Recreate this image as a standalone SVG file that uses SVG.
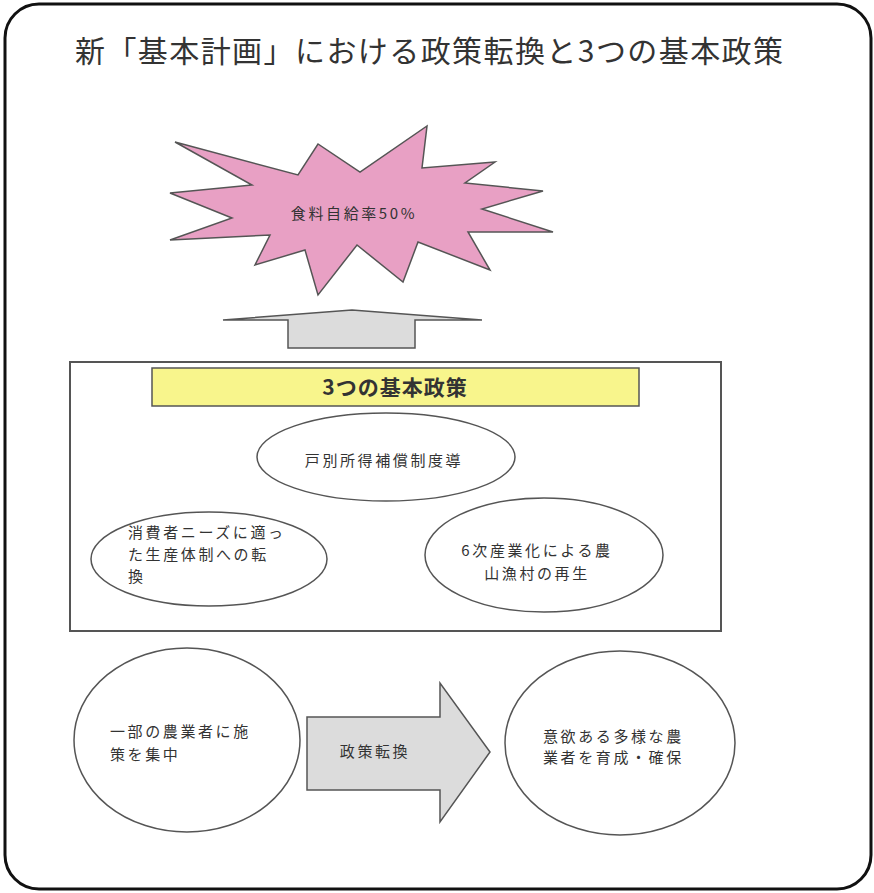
<svg xmlns="http://www.w3.org/2000/svg" width="874" height="893" viewBox="0 0 874 893">
<style>
text{font-family:"Noto Sans CJK JP","Noto Sans",sans-serif;fill:#333;}
.lbl{font-size:15px;letter-spacing:2.6px;}
.shape{stroke:#555;stroke-width:1.5;}
.ell{fill:#fff;stroke:#555;stroke-width:1.5;}
</style>
<rect x="5" y="4" width="866" height="885" rx="34" ry="34" fill="#fff" stroke="#111" stroke-width="3"/>
<text x="75" y="62" font-size="30" textLength="708" lengthAdjust="spacing">新「基本計画」における政策転換と3つの基本政策</text>

<g id="goal">
<polygon class="shape" fill="#e8a0c4" points="175,142 298,175 318,144 360,172 427,126 422,168 495,162 465,183 543,191 482,209 553,232 468,232 490,270 418,242 403,282 357,245 318,295 305,250 255,265 270,235 170,240 232,218 170,193 252,185"/>
<text class="lbl" x="354" y="219" text-anchor="middle">食料自給率50%</text>
</g>

<g id="connectors">
<polygon id="up-arrow" class="shape" fill="#dcdcdc" points="223,320 352,310 482,320 415,320 415,348 288,348 288,320"/>
<polygon id="shift-arrow" class="shape" fill="#dcdcdc" points="307,717 440,717 440,683 490,752 440,822 440,790 307,790"/>
<text class="lbl" x="375" y="757" text-anchor="middle">政策転換</text>
</g>

<g id="policies">
<rect x="70" y="362" width="651" height="269" fill="#fff" stroke="#555" stroke-width="2"/>
<g id="policies-title">
<rect x="152" y="368" width="487" height="38" fill="#f8f58c" stroke="#555" stroke-width="1.5"/>
<text x="395" y="395" font-size="21" font-weight="bold" text-anchor="middle" letter-spacing="1">3つの基本政策</text>
</g>
<g id="policy-income">
<ellipse class="ell" cx="386" cy="457" rx="129" ry="44"/>
<text class="lbl" x="384" y="466" text-anchor="middle">戸別所得補償制度導</text>
</g>
<g id="policy-consumer">
<ellipse class="ell" cx="209" cy="559" rx="118" ry="47"/>
<text class="lbl" x="128" y="538">消費者ニーズに適っ</text>
<text class="lbl" x="128" y="560">た生産体制への転</text>
<text class="lbl" x="128" y="582">換</text>
</g>
<g id="policy-sixth">
<ellipse class="ell" cx="544" cy="555" rx="119" ry="57"/>
<text class="lbl" x="537" y="556" text-anchor="middle">6次産業化による農</text>
<text class="lbl" x="537" y="579" text-anchor="middle">山漁村の再生</text>
</g>
</g>

<g id="before">
<ellipse class="ell" cx="187" cy="740" rx="113" ry="92"/>
<text class="lbl" x="110" y="737">一部の農業者に施</text>
<text class="lbl" x="110" y="760">策を集中</text>
</g>

<g id="after">
<ellipse class="ell" cx="620" cy="743" rx="115" ry="92"/>
<text class="lbl" x="543" y="742">意欲ある多様な農</text>
<text class="lbl" x="543" y="763">業者を育成・確保</text>
</g>
</svg>
